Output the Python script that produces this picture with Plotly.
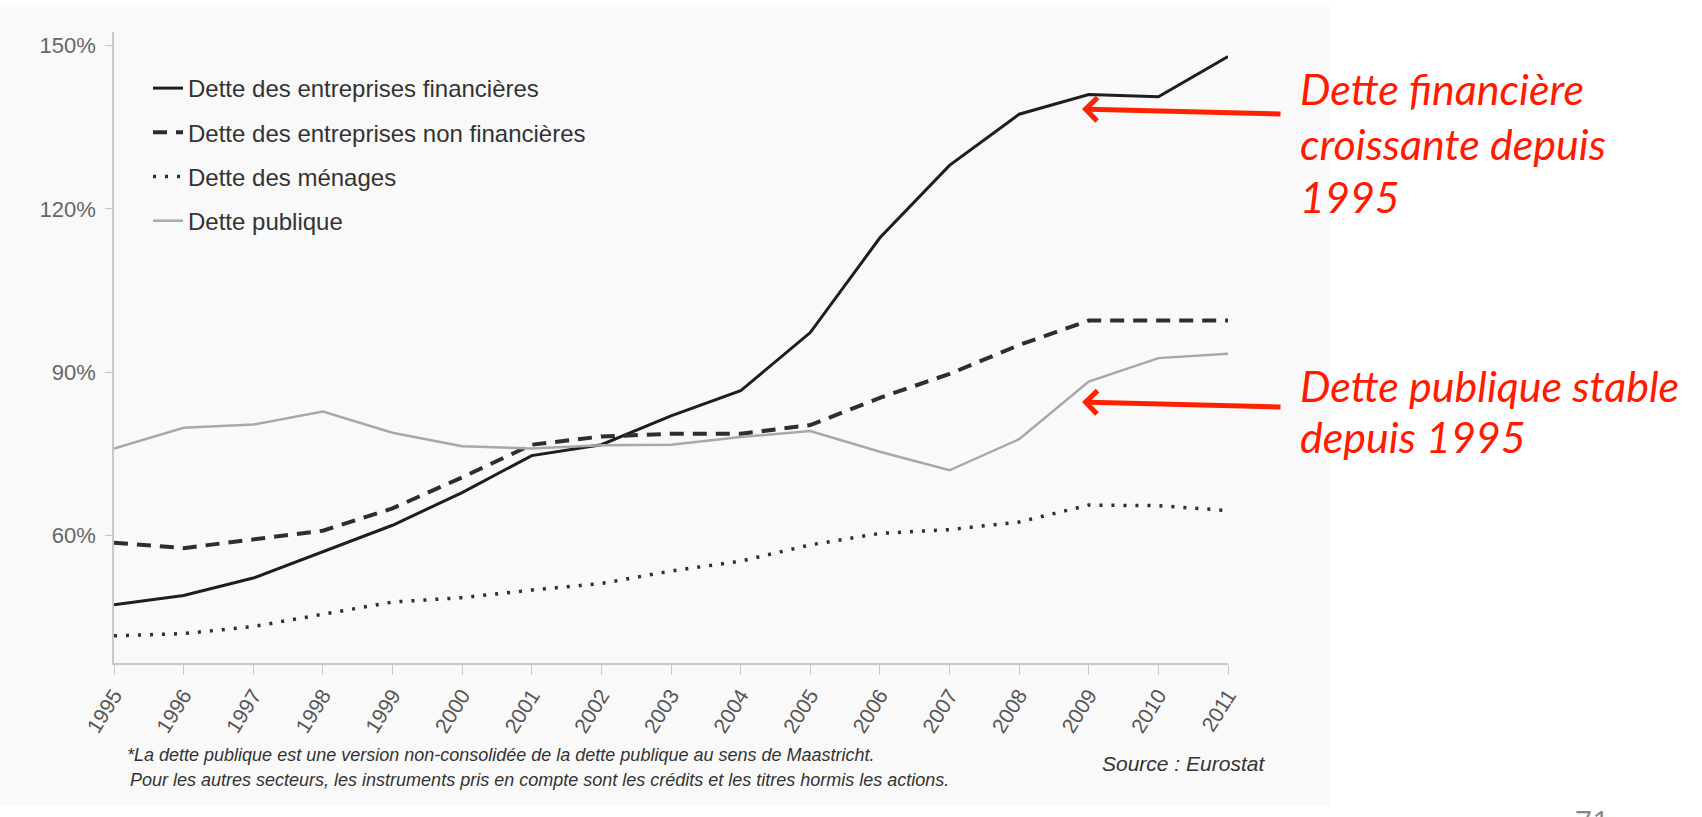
import plotly.graph_objects as go

years = list(range(1995, 2012))
dette_financieres = [47.3, 49.0, 52.2, 57.0, 61.9, 67.9, 74.7, 76.7, 82.0, 86.6, 97.3, 114.7, 128.0, 137.4, 141.0, 140.6, 148.0]
dette_non_financieres = [58.7, 57.7, 59.3, 60.9, 65.0, 70.7, 76.7, 78.2, 78.7, 78.7, 80.3, 85.3, 89.7, 95.0, 99.5, 99.5, 99.5]
dette_menages = [41.6, 42.0, 43.3, 45.5, 47.8, 48.6, 50.0, 51.2, 53.5, 55.3, 58.3, 60.4, 61.1, 62.5, 65.6, 65.5, 64.6]
dette_publique = [76.0, 79.8, 80.4, 82.8, 78.9, 76.4, 76.0, 76.6, 76.7, 78.1, 79.2, 75.4, 72.0, 77.7, 88.3, 92.6, 93.4]
y_ticks = [60, 90, 120, 150]
y_tick_labels = ["60%", "90%", "120%", "150%"]

W, H = 1702, 817
ML, MR, MT, MB = 114, 474, 32, 154
PW, PH = W - ML - MR, H - MT - MB


def px(x):
    return (x - ML) / PW


def py(y):
    return (H - MB - y) / PH


AX = "Liberation Sans, Arial, sans-serif"

fig = go.Figure()
fig.add_trace(go.Scatter(x=years, y=dette_financieres, mode="lines", name="Dette des entreprises financières",
                         line=dict(color="#1e1e1e", width=3), legendgroup="a"))
fig.add_trace(go.Scatter(x=years, y=dette_non_financieres, mode="lines", name="Dette des entreprises non financières",
                         line=dict(color="#2e2e2e", width=4, dash="14px,9px"), legendgroup="b"))
fig.add_trace(go.Scatter(x=years, y=dette_menages, mode="lines", name="Dette des ménages",
                         line=dict(color="#2e2e2e", width=3.5, dash="3px,9px"), legendgroup="c"))
fig.add_trace(go.Scatter(x=years, y=dette_publique, mode="lines", name="Dette publique",
                         line=dict(color="#a8a8a8", width=2.5), legendgroup="d"))

annotations = []
red = "#ff1a00"
for txt, yc in [("Dette financière", 88), ("croissante depuis", 144), ("1995", 196),
                ("Dette publique stable", 385), ("depuis 1995", 436)]:
    annotations.append(dict(text=txt, xref="paper", yref="paper", x=px(1298), y=py(yc),
                            xanchor="left", yanchor="middle", showarrow=False,
                            font=dict(family="Lato, Open Sans, sans-serif", size=43, color=red, style="italic")))

for (hx, hy), (tx, ty) in [((1082, 109), (1282, 114)), ((1082, 402), (1282, 407))]:
    annotations.append(dict(text="", xref="paper", yref="paper", x=px(hx), y=py(hy),
                            ax=tx - hx, ay=ty - hy, showarrow=True, arrowhead=4, arrowsize=0.9,
                            arrowwidth=5, arrowcolor="#ff2200", standoff=0))

annotations.append(dict(text="*La dette publique est une version non-consolidée de la dette publique au sens de Maastricht.",
                        xref="paper", yref="paper", x=px(125), y=py(755), xanchor="left", yanchor="middle",
                        showarrow=False, font=dict(family=AX, size=18, color="#333", style="italic")))
annotations.append(dict(text="Pour les autres secteurs, les instruments pris en compte sont les crédits et les titres hormis les actions.",
                        xref="paper", yref="paper", x=px(128), y=py(780), xanchor="left", yanchor="middle",
                        showarrow=False, font=dict(family=AX, size=18, color="#333", style="italic")))
annotations.append(dict(text="Source : Eurostat", xref="paper", yref="paper", x=px(1100), y=py(763),
                        xanchor="left", yanchor="middle", showarrow=False,
                        font=dict(family=AX, size=21, color="#333", style="italic")))
annotations.append(dict(text="71", xref="paper", yref="paper", x=px(1592), y=py(798),
                        xanchor="center", yanchor="top", showarrow=False,
                        font=dict(family="Open Sans, sans-serif", size=30, color="#888")))

shapes = [dict(type="rect", xref="paper", yref="paper", x0=px(0), x1=px(1330), y0=py(806), y1=py(7),
               fillcolor="#f9f9f9", line=dict(width=0), layer="below")]

fig.update_layout(
    width=W, height=H, autosize=False,
    margin=dict(l=ML, r=MR, t=MT, b=MB),
    paper_bgcolor="white", plot_bgcolor="rgba(0,0,0,0)",
    showlegend=True,
    legend=dict(x=px(148), y=py(66), xanchor="left", yanchor="top", bgcolor="rgba(0,0,0,0)",
                font=dict(family=AX, size=24, color="#333"), tracegroupgap=10, itemwidth=30),
    xaxis=dict(range=[1995, 2011], tickmode="array", tickvals=years, ticktext=[str(y) for y in years],
               tickangle=-58, ticks="outside", ticklen=10, tickcolor="#c8c8c8", showline=True,
               linecolor="#c8c8c8", linewidth=1.5, showgrid=False, zeroline=False,
               tickfont=dict(family=AX, size=21, color="#555")),
    yaxis=dict(range=[36.6, 152.5], tickmode="array", tickvals=y_ticks, ticktext=y_tick_labels,
               ticks="outside", ticklen=7, tickcolor="#c8c8c8", showline=True, linecolor="#c8c8c8",
               linewidth=1.5, showgrid=False, zeroline=False, ticklabelstandoff=5,
               tickfont=dict(family=AX, size=22, color="#666")),
    annotations=annotations,
    shapes=shapes,
)

fig.write_html("out.html", config={"displayModeBar": False},
               post_script="document.body.style.margin='0';document.body.style.overflow='hidden';")
